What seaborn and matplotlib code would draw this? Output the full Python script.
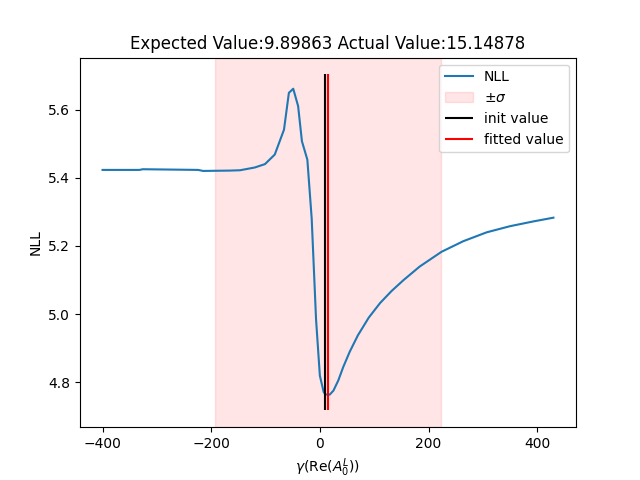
import numpy as np
import pandas as pd
import matplotlib
matplotlib.use("Agg")
import matplotlib.pyplot as plt
import seaborn as sns

# NLL scan values
gamma = [-400, -332, -326, -224, -215, -166, -147, -120, -101, -83, -66, -57, -49,
         -40, -33, -23, -15, -7, 0, 7, 10, 15, 18, 25, 34, 43, 55, 70, 90,
         111, 132, 154, 184, 224, 264, 307, 350, 393, 430]
nll = [5.423, 5.423, 5.425, 5.423, 5.420, 5.421, 5.422, 5.430, 5.440, 5.468,
       5.541, 5.649, 5.661, 5.610, 5.507, 5.453, 5.280, 4.985, 4.820, 4.772,
       4.765, 4.764, 4.764, 4.776, 4.806, 4.845, 4.890, 4.938, 4.990,
       5.033, 5.068, 5.100, 5.140, 5.183, 5.214, 5.240, 5.258, 5.272, 5.283]

init_value = 9.89863
fitted_value = 15.14878
sigma = 208.6
vline_lo, vline_hi = 4.718, 5.703

df = pd.DataFrame({"gamma": gamma, "nll": nll})

fig, ax = plt.subplots(figsize=(6.4, 4.8), dpi=100)
sns.lineplot(data=df, x="gamma", y="nll", ax=ax, color="tab:blue",
             label="NLL", sort=False)
ax.axvspan(fitted_value - sigma, fitted_value + sigma, color="red",
           alpha=0.1, label=r"$\pm\sigma$")
ax.vlines(init_value, vline_lo, vline_hi, color="black", label="init value")
ax.vlines(fitted_value, vline_lo, vline_hi, color="red", label="fitted value")

ax.set_title(f"Expected Value:{init_value} Actual Value:{fitted_value}")
ax.set_xlabel(r"$\gamma$(Re($A_0^L$))")
ax.set_ylabel("NLL")
ax.legend(loc="upper right")

plt.savefig("out.png", dpi=100)
